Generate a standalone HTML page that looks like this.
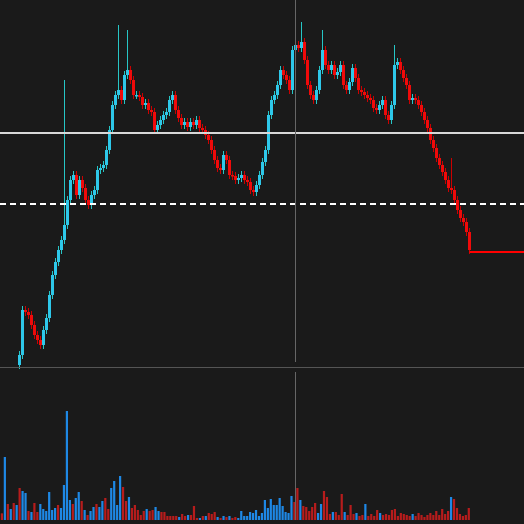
<!DOCTYPE html>
<html><head><meta charset="utf-8"><style>
html,body{margin:0;padding:0;background:#1a1a1a;}
svg{display:block;}
</style></head><body>
<svg id="chart" width="524" height="524" viewBox="0 0 524 524">
<rect x="0" y="0" width="524" height="524" fill="#1a1a1a"/>
<g id="candles"></g>
<g id="vols"></g>
<line x1="0" y1="133" x2="524" y2="133" stroke="#d8d8d8" stroke-width="2"/>
<line x1="0" y1="204" x2="524" y2="204" stroke="#ffffff" stroke-width="2" stroke-dasharray="6,4"/>
<line x1="0" y1="367.5" x2="524" y2="367.5" stroke="#555" stroke-width="1"/>
<line x1="295.5" y1="0" x2="295.5" y2="362" stroke="#666" stroke-width="1"/>
<line x1="295.5" y1="372" x2="295.5" y2="520" stroke="#666" stroke-width="1"/>
</svg>
<script>
const closes=[355,310,312,315,325,335,340,345,330,318,295,275,262,250,240,225,200,180,175,195,180,188,200,205,195,190,170,168,165,150,130,105,95,90,100,75,70,80,95,95,97,105,103,110,112,130,125,120,115,112,100,95,110,118,125,122,127,122,125,120,128,130,135,140,150,160,168,170,155,160,175,176,180,178,175,180,182,190,192,185,175,162,150,115,100,95,85,70,75,80,90,50,45,48,42,60,85,95,100,90,70,50,65,70,65,75,72,65,85,90,82,68,78,90,92,95,98,100,108,110,105,100,115,120,105,65,62,70,78,85,100,98,100,105,112,120,128,140,148,158,165,172,180,188,190,200,210,218,222,232,250];
const firstOpen=365;
const spikeIdx=[15,33,36,94,101,125,144];
const spikeHigh=[80,25,30,22,30,45,158];
const vols=[20,189,48,33,51,45,96,87,81,27,24,51,24,48,33,27,84,30,36,45,36,105,327,60,48,66,84,57,30,15,27,39,48,39,57,66,33,96,117,45,132,99,57,69,36,45,30,15,27,33,27,30,39,27,24,24,12,12,12,12,9,18,12,15,15,42,6,6,12,12,21,18,24,9,6,12,9,12,6,9,6,27,12,12,24,21,30,12,21,60,36,63,45,45,66,42,24,21,72,54,96,60,42,39,27,39,51,21,48,87,69,18,24,24,15,78,24,15,45,18,21,12,15,48,12,18,12,30,21,15,18,15,30,33,12,21,18,15,12,18,12,21,15,9,15,21,15,27,15,33,18,27,69,63,36,18,12,15,36];
const volDir="dudududuududduuuuuuduuuuduududuuduudduuuuddudddddudduudddddduddudddududddudududduuuuuuuuuuuuuuuuuuudduddddduudddudddudddudduddddudddddddddduddddddddddddudddd";
const PRICE_BASE=400;
function xC(i){return 19.5+3*i;}
function yP(p){return PRICE_BASE-p;}
function xV(i){return 0.8+2.955*i;}
function yV(v){return 520-v/3;}
const NS="http://www.w3.org/2000/svg";
const cg=document.getElementById('candles');
for(let i=0;i<closes.length;i++){
  const c=PRICE_BASE-closes[i];
  const o=i===0?PRICE_BASE-firstOpen:PRICE_BASE-closes[i-1];
  const up=c>=o;
  let hi=Math.max(o,c)+4, lo=Math.min(o,c)-4;
  const k=spikeIdx.indexOf(i);
  if(k>=0) hi=PRICE_BASE-spikeHigh[k];
  const x=xC(i);
  const w=document.createElementNS(NS,'line');
  w.setAttribute('x1',x);w.setAttribute('x2',x);
  w.setAttribute('y1',yP(hi));w.setAttribute('y2',yP(lo));
  w.setAttribute('stroke',up?'#26c6c6':'#cc0000');w.setAttribute('stroke-width','1');
  
  
  cg.appendChild(w);
  const b=document.createElementNS(NS,'rect');
  const top=yP(Math.max(o,c)), h=Math.max(1.5,Math.abs(o-c));
  b.setAttribute('x',x-1.5);b.setAttribute('y',top);b.setAttribute('width',3);b.setAttribute('height',h);
  b.setAttribute('fill',up?'#2ec8ea':'#f00a0a');
  
  
  cg.appendChild(b);
}
const last=PRICE_BASE-closes[closes.length-1];
const ll=document.createElementNS(NS,'line');
ll.setAttribute('x1',xC(closes.length-1));ll.setAttribute('x2',524);
ll.setAttribute('y1',yP(last)+2);ll.setAttribute('y2',yP(last)+2);
ll.setAttribute('stroke','#f00');ll.setAttribute('stroke-width','2');


cg.appendChild(ll);
const vg=document.getElementById('vols');
for(let i=0;i<vols.length;i++){
  const r=document.createElementNS(NS,'rect');
  const y=yV(vols[i]);
  r.setAttribute('x',xV(i));r.setAttribute('y',y);r.setAttribute('width',2.2);r.setAttribute('height',520-y);
  r.setAttribute('fill',volDir[i]==='u'?'#1e88e5':'#b71c1c');
  
  
  vg.appendChild(r);
}
</script>
</body></html>
